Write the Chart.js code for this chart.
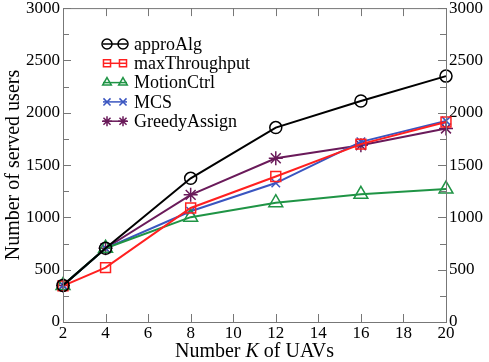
<!DOCTYPE html>
<html>
<head>
<meta charset="utf-8">
<script src="https://cdn.jsdelivr.net/npm/chart.js@4"></script>
<style>
  html, body { margin: 0; padding: 0; background: #fff; font-family: "Liberation Serif", serif; }
  #wrap { width: 489px; height: 362px; }
  #probe { position: absolute; left: -999px; top: 0; font-size: 17px; }
</style>
</head>
<body>
<span id="probe">0123456789 Number of served users approAlg maxThroughput MotionCtrl MCS GreedyAssign <i>K</i> UAVs</span>
<div id="wrap"><canvas id="c"></canvas></div>
<script>
// data
const uavs = [2, 4, 8, 12, 16, 20];
const approAlg = [350, 705, 1373, 1858, 2112, 2350];
const maxThroughput = [345, 520, 1090, 1390, 1700, 1912];
const motionCtrl = [350, 705, 1002, 1140, 1220, 1270];
const mcs = [350, 705, 1058, 1328, 1722, 1922];
const greedyAssign = [350, 705, 1215, 1565, 1690, 1850];
const xTicks = [2, 4, 6, 8, 10, 12, 14, 16, 18, 20];
const yTicks = [0, 500, 1000, 1500, 2000, 2500, 3000];

const serif = '"Liberation Serif", serif';

function pts(vals) {
    return uavs.map((k, i) => ({ x: k, y: vals[i] }));
}

const series = [
    { label: 'approAlg', data: approAlg, color: '#000000', style: 'circle', r: 6 },
    { label: 'maxThroughput', data: maxThroughput, color: '#ff2020', style: 'rect', r: 7 },
    { label: 'MotionCtrl', data: motionCtrl, color: '#1f9445', style: 'triangle', r: 8 },
    { label: 'MCS', data: mcs, color: '#3a55c0', style: 'crossRot', r: 6 },
    { label: 'GreedyAssign', data: greedyAssign, color: '#6a1a5a', style: 'star', r: 7 }
];

// inward ticks on all four sides, plus axis titles and an in-plot legend
const framePlugin = {
    id: 'frame',
    afterDraw(chart) {
        const ctx = chart.ctx;
        const a = chart.chartArea;
        const xs = chart.scales.x;
        const ys = chart.scales.y;
        ctx.save();
        ctx.strokeStyle = '#777';
        ctx.lineWidth = 1;
        ctx.strokeRect(a.left + 0.5, a.top + 0.5, a.right - a.left, a.bottom - a.top);
        ctx.beginPath();
        xTicks.forEach(v => {
            const px = Math.round(xs.getPixelForValue(v)) + 0.5;
            ctx.moveTo(px, a.bottom); ctx.lineTo(px, a.bottom - 8);
            ctx.moveTo(px, a.top); ctx.lineTo(px, a.top + 8);
        });
        for (let v = 0; v <= 3000; v += 250) {
            const py = Math.round(ys.getPixelForValue(v)) + 0.5;
            const len = v % 500 === 0 ? 8 : 6;
            ctx.moveTo(a.left, py); ctx.lineTo(a.left + len, py);
            ctx.moveTo(a.right, py); ctx.lineTo(a.right - len, py);
        }
        ctx.stroke();

        // x title with italic K
        ctx.fillStyle = '#000';
        ctx.textBaseline = 'alphabetic';
        const f1 = '20px ' + serif, f2 = 'italic 20px ' + serif;
        ctx.font = f1;
        const p1 = 'Number ', p3 = ' of UAVs';
        const w1 = ctx.measureText(p1).width, w3 = ctx.measureText(p3).width;
        ctx.font = f2;
        const w2 = ctx.measureText('K').width;
        const x0 = (a.left + a.right) / 2 - (w1 + w2 + w3) / 2;
        const yb = 357;
        ctx.font = f1; ctx.fillText(p1, x0, yb);
        ctx.font = f2; ctx.fillText('K', x0 + w1, yb);
        ctx.font = f1; ctx.fillText(p3, x0 + w1 + w2, yb);

        // y title
        ctx.save();
        ctx.translate(19, (a.top + a.bottom) / 2);
        ctx.rotate(-Math.PI / 2);
        ctx.textAlign = 'center';
        ctx.font = '20px ' + serif;
        ctx.fillText('Number of served users', 0, 0);
        ctx.restore();

        // legend
        const lx = a.left + 40, ly = 44, gap = 19.3;
        ctx.font = '18px ' + serif;
        ctx.textBaseline = 'middle';
        series.forEach((s, i) => {
            const y = ly + i * gap;
            ctx.strokeStyle = s.color;
            ctx.fillStyle = 'rgba(0,0,0,0)';
            ctx.lineWidth = 1.5;
            ctx.beginPath();
            ctx.moveTo(lx, y); ctx.lineTo(lx + 24, y);
            ctx.stroke();
            [lx + 4, lx + 20].forEach(px => {
                Chart.helpers.drawPoint(ctx, {
                    pointStyle: s.style, radius: 5, borderWidth: 1.5, rotation: 0
                }, px, y);
            });
            ctx.fillStyle = '#000';
            ctx.fillText(s.label, lx + 31, y + 1);
        });
        ctx.restore();
    }
};

const xFont = { family: serif, size: 17 };
const yFont = { family: serif, size: 17, lineHeight: 0.6 };

const chart = new Chart(document.getElementById('c'), {
    type: 'line',
    data: {
        datasets: series.map(s => ({
            label: s.label,
            data: pts(s.data),
            borderColor: s.color,
            backgroundColor: 'rgba(0,0,0,0)',
            pointBorderColor: s.color,
            pointBackgroundColor: 'rgba(0,0,0,0)',
            pointStyle: s.style,
            pointRadius: s.r,
            pointBorderWidth: 1.5,
            borderWidth: 2,
            tension: 0,
            clip: 20
        }))
    },
    options: {
        responsive: true,
        maintainAspectRatio: false,
        animation: false,
        layout: { autoPadding: false, padding: { top: 0, right: 0, left: 0, bottom: 0 } },
        plugins: {
            legend: { display: false },
            tooltip: { enabled: false }
        },
        scales: {
            x: {
                type: 'linear',
                min: 2, max: 20,
                afterBuildTicks: sc => { sc.ticks = xTicks.map(v => ({ value: v })); },
                afterFit: sc => { sc.height = 40; sc.paddingLeft = 0; sc.paddingRight = 0; },
                grid: { display: false, drawTicks: false },
                border: { display: false },
                ticks: { color: '#000', padding: 1, maxRotation: 0, font: xFont, callback: v => String(v) }
            },
            y: {
                min: 0, max: 3000,
                afterBuildTicks: sc => { sc.ticks = yTicks.map(v => ({ value: v })); },
                afterFit: sc => { sc.width = 63; },
                grid: { display: false, drawTicks: false },
                border: { display: false },
                ticks: { color: '#000', padding: 3, font: yFont, callback: v => String(v) }
            },
            y2: {
                position: 'right',
                min: 0, max: 3000,
                afterBuildTicks: sc => { sc.ticks = yTicks.map(v => ({ value: v })); },
                afterFit: sc => { sc.width = 43; },
                grid: { display: false, drawTicks: false },
                border: { display: false },
                ticks: { color: '#000', padding: 3, font: yFont, callback: v => String(v) }
            }
        }
    },
    plugins: [framePlugin]
});

// system fonts may arrive a moment later; redraw once they are ready
document.fonts.ready.then(() => chart.update());
setTimeout(() => chart.update(), 100);
setTimeout(() => chart.update(), 400);
</script>
</body>
</html>
